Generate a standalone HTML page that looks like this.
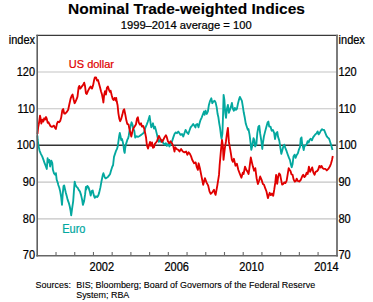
<!DOCTYPE html><html><head><meta charset="utf-8"><style>html,body{margin:0;padding:0;background:#fff;width:373px;height:302px;overflow:hidden}svg{display:block}</style></head><body>
<svg width="373" height="302" viewBox="0 0 373 302">
<rect width="373" height="302" fill="#fff"/>
<line x1="37.3" y1="72.02" x2="336.8" y2="72.02" stroke="#c4c4c4" stroke-width="1.1"/>
<line x1="37.3" y1="108.73" x2="336.8" y2="108.73" stroke="#c4c4c4" stroke-width="1.1"/>
<line x1="37.3" y1="182.17" x2="336.8" y2="182.17" stroke="#c4c4c4" stroke-width="1.1"/>
<line x1="37.3" y1="218.88" x2="336.8" y2="218.88" stroke="#c4c4c4" stroke-width="1.1"/>
<line x1="37.3" y1="145.30" x2="336.8" y2="145.30" stroke="#333" stroke-width="1.4"/>
<path d="M37.4,135.5 L37.7,140.0 L38.5,145.8 L39.6,150.8 L41.0,154.1 L42.3,156.6 L43.5,159.9 L44.6,163.2 L45.6,165.7 L46.8,169.0 L47.6,158.2 L48.4,162.4 L49.3,159.9 L50.1,166.5 L51.3,160.7 L52.3,163.2 L52.9,169.8 L53.9,173.1 L55.1,174.8 L55.9,173.1 L56.7,179.8 L57.9,183.1 L58.2,184.7 L59.3,187.7 L60.2,191.4 L61.2,197.4 L62.0,204.9 L62.7,194.4 L63.5,186.2 L64.2,185.4 L65.0,189.2 L65.7,192.2 L66.7,195.9 L67.6,199.6 L68.7,202.6 L69.7,206.3 L70.6,210.8 L71.2,215.3 L72.1,208.6 L73.2,201.1 L73.9,191.4 L74.7,181.7 L75.4,184.7 L76.6,186.9 L77.6,187.7 L78.7,189.9 L79.9,191.4 L81.1,195.1 L82.1,199.6 L82.9,204.9 L84.1,201.1 L85.1,194.4 L85.9,186.9 L86.2,189.6 L87.3,185.9 L88.5,187.4 L89.7,191.1 L90.7,195.6 L91.8,191.1 L92.7,190.4 L93.7,194.9 L94.7,197.8 L95.9,196.3 L97.1,197.1 L98.2,195.6 L99.2,192.6 L100.4,187.4 L101.6,180.7 L102.7,175.4 L103.4,173.2 L104.6,176.9 L105.6,178.4 L106.7,177.7 L107.9,176.9 L109.1,175.4 L110.1,174.0 L110.9,171.0 L112.1,167.2 L113.1,165.0 L114.0,156.9 L115.0,153.9 L116.0,150.9 L117.0,148.9 L117.8,145.9 L118.5,140.9 L119.2,136.0 L119.8,133.0 L120.5,136.0 L121.2,140.0 L122.0,139.0 L122.8,141.9 L123.5,145.9 L124.1,150.9 L124.7,152.9 L125.1,148.9 L125.9,144.4 L126.7,141.9 L127.4,139.5 L128.1,138.5 L128.7,136.0 L129.4,131.5 L130.6,126.3 L131.6,122.3 L132.6,125.0 L133.2,128.3 L134.3,130.9 L135.2,137.6 L136.6,136.2 L137.9,136.9 L139.2,136.2 L141.2,134.9 L143.2,133.2 L144.0,132.6 L145.3,127.9 L146.7,124.6 L147.7,122.0 L148.6,119.3 L149.6,116.0 L150.4,122.0 L151.3,127.3 L152.2,125.3 L153.0,123.3 L154.0,128.6 L154.9,126.6 L156.0,130.6 L157.0,134.6 L157.9,138.6 L158.9,141.9 L159.9,139.9 L161.0,141.9 L161.9,139.9 L163.3,143.2 L164.6,144.5 L165.9,143.2 L166.8,145.9 L168.2,143.9 L169.5,146.5 L170.6,143.9 L172.0,141.5 L173.3,137.4 L174.5,134.0 L175.6,132.4 L177.0,133.2 L178.3,131.6 L179.5,133.2 L180.6,134.9 L182.0,134.0 L183.3,136.5 L184.4,133.2 L185.6,129.9 L186.9,132.4 L188.3,134.0 L189.4,130.7 L190.6,127.4 L191.9,125.8 L193.2,124.1 L194.4,125.8 L195.5,127.4 L196.0,124.8 L197.3,124.0 L198.5,127.3 L199.6,123.1 L200.6,119.8 L201.8,117.3 L203.0,114.0 L204.0,111.5 L204.6,114.9 L205.6,110.7 L206.8,114.0 L207.9,111.5 L208.9,104.9 L210.1,100.8 L211.3,98.3 L212.3,103.2 L213.4,101.6 L214.6,100.8 L215.6,102.4 L216.7,107.4 L217.6,114.0 L218.4,117.3 L219.2,123.1 L220.0,127.7 L221.0,135.7 L221.6,138.7 L222.4,133.7 L223.0,116.8 L223.6,94.9 L224.4,99.9 L225.2,112.8 L226.0,117.8 L226.9,108.9 L227.9,104.9 L228.9,112.8 L229.9,109.9 L230.9,106.9 L231.9,102.9 L232.9,108.9 L233.9,110.8 L234.9,107.9 L235.9,109.9 L236.9,108.9 L237.9,103.9 L238.9,99.9 L239.9,96.9 L240.9,98.9 L241.9,100.9 L242.9,106.9 L243.8,112.8 L244.8,117.8 L245.8,123.8 L246.8,126.7 L247.8,129.7 L248.5,129.1 L249.6,134.9 L250.6,143.2 L251.3,149.8 L252.3,145.7 L253.5,138.2 L254.3,139.9 L255.1,146.5 L256.3,144.8 L257.3,133.2 L258.4,126.6 L259.3,125.8 L260.1,133.2 L261.3,140.7 L262.3,149.0 L262.9,143.2 L263.9,136.5 L265.1,131.6 L266.2,127.4 L267.6,122.4 L268.4,121.6 L269.2,126.6 L270.5,126.6 L271.7,130.7 L272.9,129.9 L274.2,133.2 L275.0,139.0 L276.2,133.2 L276.7,132.7 L277.3,132.0 L278.0,136.6 L279.3,140.6 L280.2,146.6 L281.3,153.9 L282.4,149.9 L283.3,146.6 L284.2,144.6 L285.3,147.9 L286.6,151.2 L288.0,155.2 L289.0,157.9 L289.9,159.9 L290.9,164.5 L291.7,167.2 L292.6,163.9 L293.5,156.5 L294.6,154.6 L295.6,157.9 L296.6,155.2 L297.9,153.2 L298.8,149.9 L300.0,147.0 L300.7,138.8 L301.5,137.4 L302.2,144.1 L303.0,147.0 L303.7,150.0 L304.5,145.6 L305.7,145.6 L306.7,144.1 L307.7,141.1 L308.6,142.6 L309.7,139.6 L310.7,138.8 L311.9,140.3 L313.1,137.4 L314.2,135.9 L315.2,134.4 L316.4,133.6 L317.6,131.4 L318.6,134.4 L319.7,132.9 L320.9,130.6 L322.1,129.2 L323.1,129.9 L324.1,129.9 L325.3,132.9 L326.5,135.9 L327.6,137.4 L329.1,138.8 L330.1,141.8 L331.3,145.6 L332.5,150.0" fill="none" stroke="#04a89f" stroke-width="1.85" stroke-linejoin="round"/>
<path d="M37.5,134.0 L38.2,127.0 L38.7,124.9 L39.3,120.9 L40.0,115.6 L40.6,118.3 L41.3,123.6 L42.4,119.6 L43.3,121.6 L44.2,118.3 L45.0,119.6 L46.0,117.0 L46.6,118.3 L47.7,122.9 L48.6,122.3 L49.5,124.3 L50.6,126.2 L51.9,126.9 L53.0,126.2 L53.9,125.6 L54.9,127.6 L55.9,128.9 L57.0,123.6 L57.9,121.6 L59.2,122.3 L60.2,120.9 L61.2,117.6 L62.3,110.3 L63.2,109.0 L64.2,113.6 L65.2,113.6 L66.6,112.2 L68.2,109.8 L69.3,104.5 L70.6,98.6 L71.7,95.9 L72.6,94.6 L73.6,99.2 L74.6,103.2 L75.7,101.2 L76.6,99.2 L77.5,96.6 L78.6,87.3 L79.3,85.9 L80.2,88.6 L81.3,87.3 L82.3,85.9 L83.3,84.6 L84.2,82.6 L85.0,85.9 L85.9,93.2 L86.8,93.9 L87.9,91.2 L89.2,88.6 L90.6,86.6 L92.0,88.6 L93.1,85.3 L94.0,80.6 L94.9,77.3 L96.0,77.3 L97.0,80.6 L98.0,80.0 L98.9,83.3 L100.0,87.3 L101.0,91.2 L102.0,94.6 L102.9,99.2 L103.4,102.5 L104.2,94.6 L105.0,91.2 L105.9,94.6 L106.9,87.9 L107.9,86.6 L109.0,89.9 L109.9,91.9 L110.6,90.6 L111.7,95.2 L112.6,98.6 L113.5,99.9 L114.6,97.9 L115.6,100.5 L116.2,97.9 L116.7,101.3 L117.6,105.3 L118.4,113.3 L119.3,118.6 L120.2,121.2 L121.3,118.6 L122.4,114.6 L123.3,110.6 L124.2,109.3 L125.3,114.6 L126.4,120.6 L127.3,123.9 L128.6,124.6 L129.3,128.6 L130.3,132.5 L131.3,136.5 L132.2,132.5 L133.3,128.6 L134.6,126.6 L135.9,124.6 L137.0,118.6 L137.9,117.3 L138.8,122.6 L139.9,124.6 L141.0,123.2 L141.9,126.6 L143.2,125.9 L144.2,128.6 L145.2,133.2 L146.0,137.2 L146.9,145.2 L148.0,148.5 L149.0,145.2 L150.0,141.9 L150.9,145.9 L152.0,142.5 L153.0,147.8 L154.0,147.2 L154.9,143.9 L156.0,142.5 L157.0,141.2 L157.9,138.6 L158.9,135.9 L159.9,137.9 L161.0,139.9 L161.9,141.9 L163.3,139.9 L164.6,137.2 L165.9,135.2 L166.8,137.2 L167.9,141.2 L169.2,143.2 L170.6,141.2 L171.9,143.2 L173.2,145.9 L174.5,151.5 L175.3,147.3 L176.6,149.0 L178.3,149.8 L179.5,151.5 L181.1,149.0 L182.8,151.5 L184.4,152.3 L186.1,151.5 L187.3,154.8 L188.6,152.3 L189.9,153.9 L191.1,156.4 L192.2,159.8 L194.1,163.3 L195.7,162.4 L196.6,166.6 L197.9,169.9 L198.6,163.3 L199.9,168.2 L201.2,174.9 L202.4,180.7 L203.2,184.8 L204.9,178.2 L206.5,182.3 L208.2,185.6 L209.5,191.4 L210.7,193.9 L212.3,192.3 L214.0,189.8 L214.8,193.1 L215.6,194.8 L217.3,185.6 L219.0,174.9 L219.6,165.7 L221.0,149.8 L222.0,139.9 L222.9,145.8 L223.5,159.8 L224.9,147.8 L225.9,141.9 L226.9,133.9 L227.9,128.0 L228.9,141.9 L230.3,149.8 L231.9,159.8 L232.9,161.7 L233.9,158.8 L235.5,165.7 L236.9,163.7 L238.3,169.7 L239.8,173.7 L241.4,177.7 L242.8,172.7 L243.3,173.2 L243.6,174.0 L245.0,166.6 L246.3,169.9 L247.5,171.6 L248.6,174.0 L249.6,166.6 L250.8,157.5 L251.9,162.4 L252.9,166.6 L254.1,170.7 L255.3,168.2 L256.6,178.2 L257.9,184.0 L259.1,180.7 L260.2,176.5 L261.6,179.9 L262.9,184.0 L264.0,184.8 L265.2,188.1 L266.5,191.5 L267.9,198.1 L269.0,194.8 L269.7,192.8 L270.8,195.1 L272.0,193.6 L273.2,195.8 L274.2,189.9 L275.3,182.4 L276.1,174.9 L277.2,183.9 L278.2,176.4 L279.1,173.4 L280.2,174.9 L280.9,178.7 L282.1,184.6 L283.2,183.9 L284.2,182.4 L285.4,183.1 L286.6,180.9 L287.6,174.9 L288.7,168.2 L289.6,169.7 L290.6,171.2 L291.4,174.2 L292.6,174.9 L293.6,179.4 L294.7,181.6 L295.9,180.9 L296.7,178.6 L297.7,180.8 L299.2,181.5 L300.7,180.0 L302.2,176.3 L303.2,174.8 L304.4,177.1 L305.6,175.6 L306.7,172.6 L307.7,174.1 L308.9,166.6 L310.1,171.8 L311.2,169.6 L312.2,167.4 L313.4,172.6 L314.6,174.8 L315.6,171.8 L317.1,171.1 L318.2,169.6 L319.4,165.9 L320.5,167.4 L321.6,165.9 L322.6,168.1 L323.8,168.9 L325.3,168.9 L326.8,170.4 L328.3,168.9 L329.8,166.6 L331.0,163.6 L332.0,159.9 L332.8,156.0" fill="none" stroke="#e00000" stroke-width="1.85" stroke-linejoin="round"/>
<line x1="36.4" y1="35.35" x2="337.95" y2="35.35" stroke="#3a3a3a" stroke-width="1.3"/>
<line x1="37.2" y1="34.7" x2="37.2" y2="256.55" stroke="#606060" stroke-width="1.6"/>
<line x1="337.0" y1="34.7" x2="337.0" y2="256.55" stroke="#757575" stroke-width="1.9"/>
<line x1="36.4" y1="255.8" x2="337.95" y2="255.8" stroke="#666" stroke-width="1.5"/>
<line x1="56.02" y1="255.6" x2="56.02" y2="252.0" stroke="#6a6a6a" stroke-width="1.1"/>
<line x1="74.74" y1="255.6" x2="74.74" y2="252.0" stroke="#6a6a6a" stroke-width="1.1"/>
<line x1="93.46" y1="255.6" x2="93.46" y2="252.0" stroke="#6a6a6a" stroke-width="1.1"/>
<line x1="112.17" y1="255.6" x2="112.17" y2="252.0" stroke="#6a6a6a" stroke-width="1.1"/>
<line x1="130.89" y1="255.6" x2="130.89" y2="252.0" stroke="#6a6a6a" stroke-width="1.1"/>
<line x1="149.61" y1="255.6" x2="149.61" y2="252.0" stroke="#6a6a6a" stroke-width="1.1"/>
<line x1="168.33" y1="255.6" x2="168.33" y2="252.0" stroke="#6a6a6a" stroke-width="1.1"/>
<line x1="187.05" y1="255.6" x2="187.05" y2="252.0" stroke="#6a6a6a" stroke-width="1.1"/>
<line x1="205.77" y1="255.6" x2="205.77" y2="252.0" stroke="#6a6a6a" stroke-width="1.1"/>
<line x1="224.49" y1="255.6" x2="224.49" y2="252.0" stroke="#6a6a6a" stroke-width="1.1"/>
<line x1="243.21" y1="255.6" x2="243.21" y2="252.0" stroke="#6a6a6a" stroke-width="1.1"/>
<line x1="261.93" y1="255.6" x2="261.93" y2="252.0" stroke="#6a6a6a" stroke-width="1.1"/>
<line x1="280.64" y1="255.6" x2="280.64" y2="252.0" stroke="#6a6a6a" stroke-width="1.1"/>
<line x1="299.36" y1="255.6" x2="299.36" y2="252.0" stroke="#6a6a6a" stroke-width="1.1"/>
<line x1="318.08" y1="255.6" x2="318.08" y2="252.0" stroke="#6a6a6a" stroke-width="1.1"/>
<text transform="translate(0,75.92) scale(1,1.1) translate(0,-75.92)" x="35" y="75.92" font-family="Liberation Sans, sans-serif" font-size="11" text-anchor="end" fill="#000" stroke="#000" stroke-width="0.22">120</text>
<text transform="translate(0,75.92) scale(1,1.1) translate(0,-75.92)" x="338.4" y="75.92" font-family="Liberation Sans, sans-serif" font-size="11" fill="#000" stroke="#000" stroke-width="0.22">120</text>
<text transform="translate(0,112.63) scale(1,1.1) translate(0,-112.63)" x="35" y="112.63" font-family="Liberation Sans, sans-serif" font-size="11" text-anchor="end" fill="#000" stroke="#000" stroke-width="0.22">110</text>
<text transform="translate(0,112.63) scale(1,1.1) translate(0,-112.63)" x="338.4" y="112.63" font-family="Liberation Sans, sans-serif" font-size="11" fill="#000" stroke="#000" stroke-width="0.22">110</text>
<text transform="translate(0,149.35) scale(1,1.1) translate(0,-149.35)" x="35" y="149.35" font-family="Liberation Sans, sans-serif" font-size="11" text-anchor="end" fill="#000" stroke="#000" stroke-width="0.22">100</text>
<text transform="translate(0,149.35) scale(1,1.1) translate(0,-149.35)" x="338.4" y="149.35" font-family="Liberation Sans, sans-serif" font-size="11" fill="#000" stroke="#000" stroke-width="0.22">100</text>
<text transform="translate(0,186.07) scale(1,1.1) translate(0,-186.07)" x="35" y="186.07" font-family="Liberation Sans, sans-serif" font-size="11" text-anchor="end" fill="#000" stroke="#000" stroke-width="0.22">90</text>
<text transform="translate(0,186.07) scale(1,1.1) translate(0,-186.07)" x="338.4" y="186.07" font-family="Liberation Sans, sans-serif" font-size="11" fill="#000" stroke="#000" stroke-width="0.22">90</text>
<text transform="translate(0,222.78) scale(1,1.1) translate(0,-222.78)" x="35" y="222.78" font-family="Liberation Sans, sans-serif" font-size="11" text-anchor="end" fill="#000" stroke="#000" stroke-width="0.22">80</text>
<text transform="translate(0,222.78) scale(1,1.1) translate(0,-222.78)" x="338.4" y="222.78" font-family="Liberation Sans, sans-serif" font-size="11" fill="#000" stroke="#000" stroke-width="0.22">80</text>
<text transform="translate(0,259.5) scale(1,1.1) translate(0,-259.5)" x="35" y="259.50" font-family="Liberation Sans, sans-serif" font-size="11" text-anchor="end" fill="#000" stroke="#000" stroke-width="0.22">70</text>
<text transform="translate(0,259.5) scale(1,1.1) translate(0,-259.5)" x="338.4" y="259.50" font-family="Liberation Sans, sans-serif" font-size="11" fill="#000" stroke="#000" stroke-width="0.22">70</text>
<text transform="translate(0,43.7) scale(1,1.1) translate(0,-43.7)" x="35" y="43.7" font-family="Liberation Sans, sans-serif" font-size="11" text-anchor="end" fill="#000" stroke="#000" stroke-width="0.22">index</text>
<text transform="translate(0,43.7) scale(1,1.1) translate(0,-43.7)" x="338.6" y="43.7" font-family="Liberation Sans, sans-serif" font-size="11" fill="#000" stroke="#000" stroke-width="0.22">index</text>
<text transform="translate(0,270.8) scale(1,1.1) translate(0,-270.8)" x="101.82" y="270.8" font-family="Liberation Sans, sans-serif" font-size="11" text-anchor="middle" fill="#000" stroke="#000" stroke-width="0.22">2002</text>
<text transform="translate(0,270.8) scale(1,1.1) translate(0,-270.8)" x="176.69" y="270.8" font-family="Liberation Sans, sans-serif" font-size="11" text-anchor="middle" fill="#000" stroke="#000" stroke-width="0.22">2006</text>
<text transform="translate(0,270.8) scale(1,1.1) translate(0,-270.8)" x="251.57" y="270.8" font-family="Liberation Sans, sans-serif" font-size="11" text-anchor="middle" fill="#000" stroke="#000" stroke-width="0.22">2010</text>
<text transform="translate(0,270.8) scale(1,1.1) translate(0,-270.8)" x="326.44" y="270.8" font-family="Liberation Sans, sans-serif" font-size="11" text-anchor="middle" fill="#000" stroke="#000" stroke-width="0.22">2014</text>
<text x="186.5" y="14.1" font-family="Liberation Sans, sans-serif" font-size="15.5" font-weight="bold" text-anchor="middle" fill="#000" stroke="#000" stroke-width="0.12">Nominal Trade-weighted Indices</text>
<text x="186.2" y="28.8" font-family="Liberation Sans, sans-serif" font-size="11.2" text-anchor="middle" fill="#000" stroke="#000" stroke-width="0.22">1999–2014 average = 100</text>
<text x="68.8" y="68.2" font-family="Liberation Sans, sans-serif" font-size="11" fill="#e00000" stroke="#e00000" stroke-width="0.22">US dollar</text>
<text transform="translate(0,232.7) scale(1,1.1) translate(0,-232.7)" x="62.2" y="232.7" font-family="Liberation Sans, sans-serif" font-size="11" fill="#04a89f" stroke="#04a89f" stroke-width="0.22">Euro</text>
<text x="35.6" y="288.2" font-family="Liberation Sans, sans-serif" font-size="8.95" fill="#000" stroke="#000" stroke-width="0.12">Sources:</text>
<text x="76.2" y="288.2" font-family="Liberation Sans, sans-serif" font-size="8.95" fill="#000" stroke="#000" stroke-width="0.12">BIS; Bloomberg; Board of Governors of the Federal Reserve</text>
<text x="76.2" y="298.1" font-family="Liberation Sans, sans-serif" font-size="8.95" fill="#000" stroke="#000" stroke-width="0.12">System; RBA</text>
</svg></body></html>
